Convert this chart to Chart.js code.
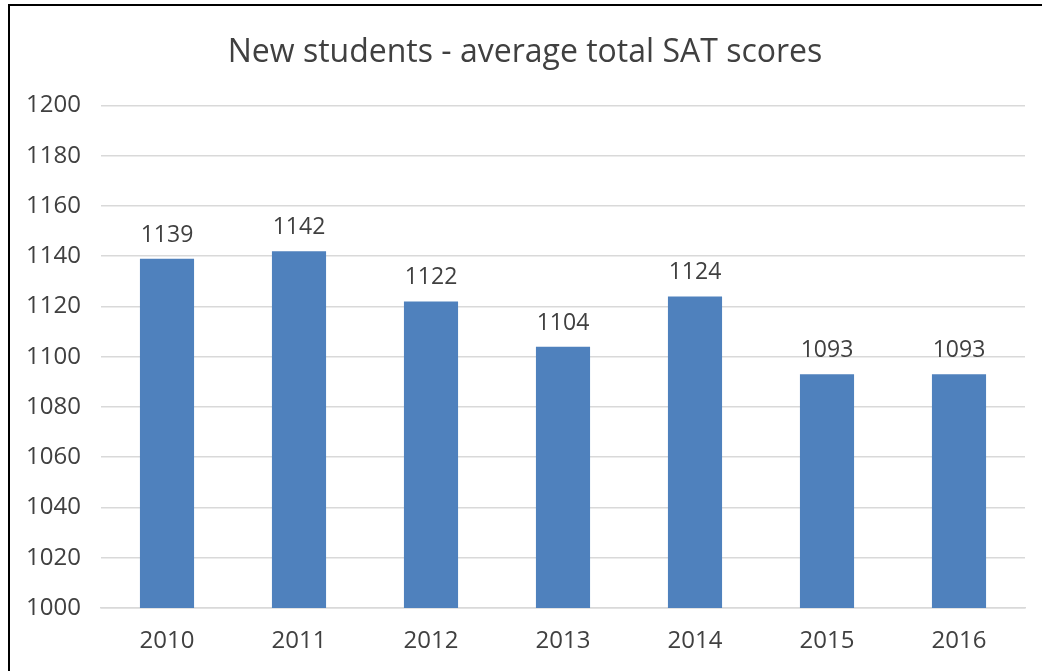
<!DOCTYPE html>
<html>
<head>
<meta charset="utf-8">
<script src="https://cdn.jsdelivr.net/npm/chart.js@4"></script>
<style>
    html, body { margin: 0; padding: 0; background: #ffffff; }
    #frame {
        position: absolute;
        left: 8px; top: 4px;
        width: 1034px; height: 667px;
        border-top: 2px solid #000;
        border-left: 2px solid #000;
    }
    #wrap { position: absolute; left: 0; top: 0; width: 1032px; height: 665px; }
</style>
</head>
<body>
<div id="frame"><div id="wrap"><canvas id="barChart"></canvas></div></div>
<script>
// ── Data ──
const years = ['2010', '2011', '2012', '2013', '2014', '2015', '2016'];
const satScores = [1139, 1142, 1122, 1104, 1124, 1093, 1093];
const yTicks = [1000, 1020, 1040, 1060, 1080, 1100, 1120, 1140, 1160, 1180, 1200];

const FONT = "'Open Sans', sans-serif";
const TEXT = '#404040';

// values drawn above each bar
const valueLabels = {
    id: 'valueLabels',
    afterDatasetsDraw(chart) {
        const ctx = chart.ctx;
        const meta = chart.getDatasetMeta(0);
        ctx.save();
        ctx.font = '23px ' + FONT;
        ctx.fillStyle = TEXT;
        ctx.textAlign = 'center';
        ctx.textBaseline = 'bottom';
        meta.data.forEach((bar, i) => {
            ctx.fillText(chart.data.datasets[0].data[i], bar.x, bar.y - 12);
        });
        ctx.restore();
    }
};

new Chart(document.getElementById('barChart'), {
    type: 'bar',
    data: {
        labels: years,
        datasets: [{
            label: 'Average total SAT',
            data: satScores,
            backgroundColor: '#4f81bd',
            borderWidth: 0,
            categoryPercentage: 1,
            barPercentage: 0.41
        }]
    },
    plugins: [valueLabels],
    options: {
        responsive: true,
        maintainAspectRatio: false,
        animation: false,
        layout: { padding: { left: 15, right: 17, top: 0, bottom: 0 } },
        plugins: {
            legend: { display: false },
            tooltip: { enabled: false },
            title: {
                display: true,
                text: 'New students - average total SAT scores',
                color: TEXT,
                font: { family: FONT, size: 32, weight: 'normal' },
                padding: { top: 28, bottom: 33 }
            }
        },
        scales: {
            y: {
                min: 1000,
                max: 1200,
                afterBuildTicks(axis) { axis.ticks = yTicks.map(v => ({ value: v })); },
                afterFit(axis) { axis.width = 76; },
                ticks: {
                    color: TEXT,
                    font: { family: FONT, size: 24 },
                    padding: 20,
                    callback: v => String(v)
                },
                grid: { color: '#d9d9d9', lineWidth: 1.5, drawTicks: false },
                border: { display: false }
            },
            x: {
                afterFit(axis) { axis.height = 63; },
                ticks: { color: TEXT, font: { family: FONT, size: 24 }, padding: 19 },
                grid: { display: false, drawTicks: false },
                border: { color: '#d9d9d9', width: 1.5 }
            }
        }
    }
});
</script>
</body>
</html>
